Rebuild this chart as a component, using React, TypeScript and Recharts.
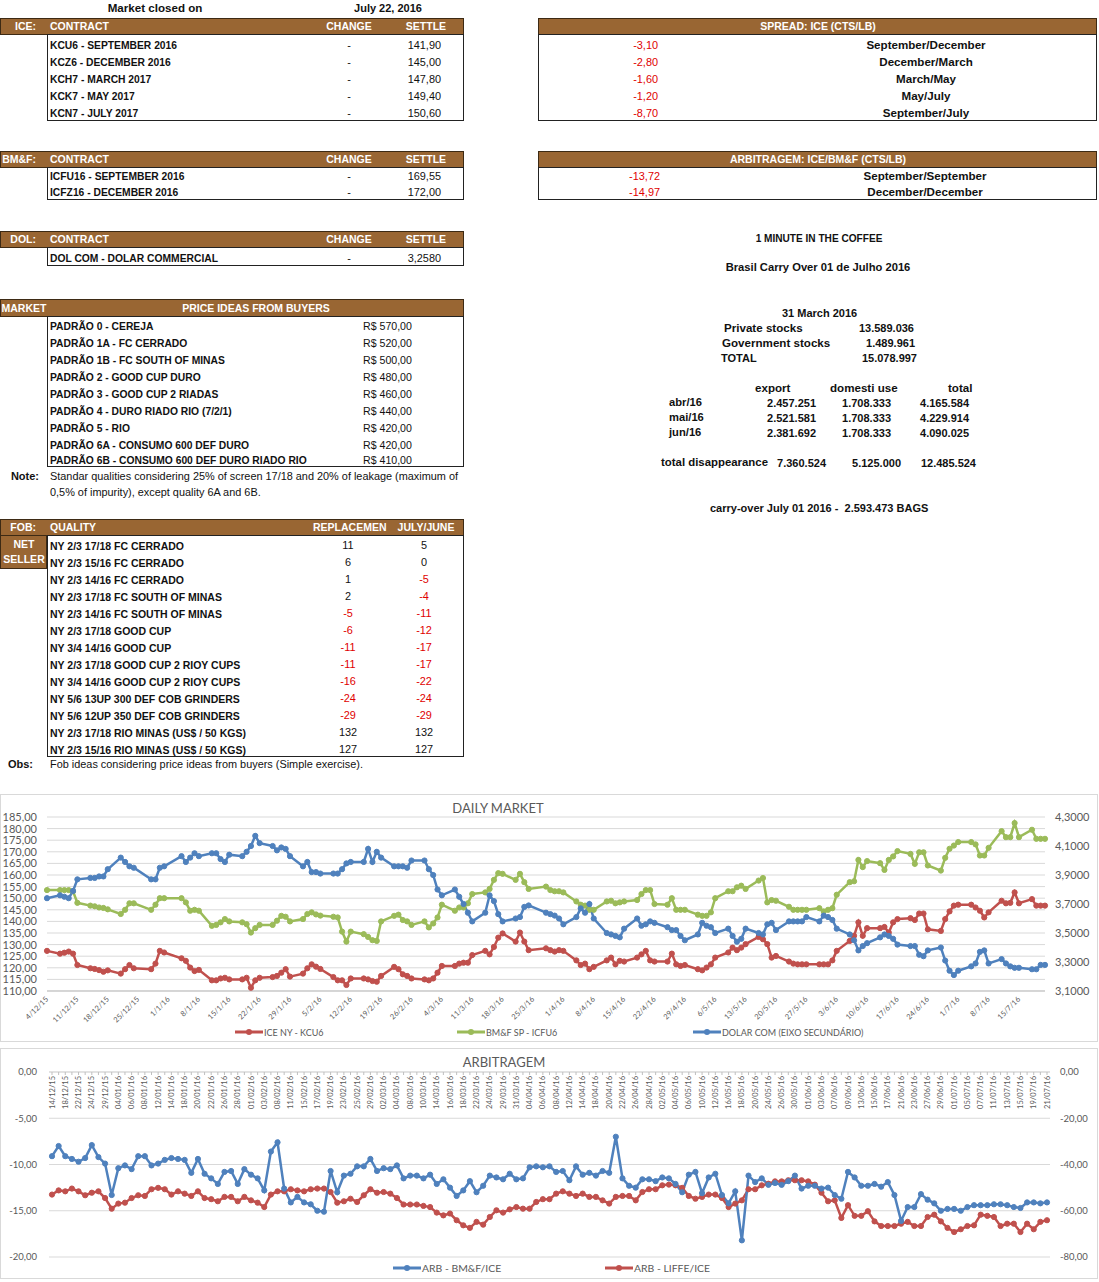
import React from 'react';
import { LineChart, Line, XAxis, YAxis, CartesianGrid } from 'recharts';

const SHEET_FONT = '"Liberation Sans", Arial, sans-serif';
const CHART_FONT = 'Lato, "Open Sans", sans-serif';
const BROWN = '#996633';
const RED = '#C0504D';
const GREEN = '#9BBB59';
const BLUE = '#4F81BD';
const AXIS_TEXT = '#595959';
const CAPS = 10.3;   // bold upper-case cells render narrower in the sheet
const MIXED = 11.6;  // bold mixed-case cells render wider

// ---- tables ----
const iceContracts = ['KCU6 - SEPTEMBER 2016', 'KCZ6 - DECEMBER 2016', 'KCH7 - MARCH 2017', 'KCK7 - MAY 2017', 'KCN7 - JULY 2017'];
const iceSettle = ['141,90', '145,00', '147,80', '149,40', '150,60'];
const spreadValues = ['-3,10', '-2,80', '-1,60', '-1,20', '-8,70'];
const spreadLabels = ['September/December', 'December/March', 'March/May', 'May/July', 'September/July'];
const bmfContracts = ['ICFU16 - SEPTEMBER 2016', 'ICFZ16 - DECEMBER 2016'];
const bmfSettle = ['169,55', '172,00'];
const arbTableValues = ['-13,72', '-14,97'];
const arbTableLabels = ['September/September', 'December/December'];
const priceIdeas = [
  'PADRÃO 0 - CEREJA',
  'PADRÃO 1A - FC CERRADO',
  'PADRÃO 1B - FC SOUTH OF MINAS',
  'PADRÃO 2 - GOOD CUP DURO',
  'PADRÃO 3 - GOOD CUP 2 RIADAS',
  'PADRÃO 4 - DURO RIADO RIO (7/2/1)',
  'PADRÃO 5 - RIO',
  'PADRÃO 6A - CONSUMO 600 DEF DURO',
  'PADRÃO 6B - CONSUMO 600 DEF DURO RIADO RIO',
];
const priceValues = ['R$ 570,00', 'R$ 520,00', 'R$ 500,00', 'R$ 480,00', 'R$ 460,00', 'R$ 440,00', 'R$ 420,00', 'R$ 420,00', 'R$ 410,00'];
const fobQualities = [
  'NY 2/3 17/18 FC CERRADO',
  'NY 2/3 15/16 FC CERRADO',
  'NY 2/3 14/16 FC CERRADO',
  'NY 2/3 17/18 FC SOUTH OF MINAS',
  'NY 2/3 14/16 FC SOUTH OF MINAS',
  'NY 2/3 17/18 GOOD CUP',
  'NY 3/4 14/16 GOOD CUP',
  'NY 2/3 17/18 GOOD CUP 2 RIOY CUPS',
  'NY 3/4 14/16 GOOD CUP 2 RIOY CUPS',
  'NY 5/6 13UP 300 DEF COB GRINDERS',
  'NY 5/6 12UP 350 DEF COB GRINDERS',
  'NY 2/3 17/18 RIO MINAS (US$ / 50 KGS)',
  'NY 2/3 15/16 RIO MINAS (US$ / 50 KGS)',
];
const fobReplacement = [11, 6, 1, 2, -5, -6, -11, -11, -16, -24, -29, 132, 127];
const fobJulyJune = [5, 0, -5, -4, -11, -12, -17, -17, -22, -24, -29, 132, 127];

const stockLabels = ['Private stocks', 'Government stocks', 'TOTAL'];
const stockValues = ['13.589.036', '1.489.961', '15.078.997'];
const useMonths = ['abr/16', 'mai/16', 'jun/16'];
const useExport = ['2.457.251', '2.521.581', '2.381.692'];
const useDomestic = ['1.708.333', '1.708.333', '1.708.333'];
const useTotal = ['4.165.584', '4.229.914', '4.090.025'];
const disappearance = ['7.360.524', '5.125.000', '12.485.524'];

// ---- daily market ----
const dmDates = [
  '4/12/15',
  '7/12/15', '8/12/15', '9/12/15', '10/12/15', '11/12/15',
  '14/12/15', '15/12/15', '16/12/15', '17/12/15', '18/12/15',
  '21/12/15', '22/12/15', '23/12/15', '24/12/15',
  '28/12/15', '29/12/15', '30/12/15', '31/12/15',
  '4/1/16', '5/1/16', '6/1/16', '7/1/16', '8/1/16',
  '11/1/16', '12/1/16', '13/1/16', '14/1/16', '15/1/16',
  '18/1/16', '19/1/16', '20/1/16', '21/1/16', '22/1/16',
  '25/1/16', '26/1/16', '27/1/16', '28/1/16', '29/1/16',
  '1/2/16', '2/2/16', '3/2/16', '4/2/16', '5/2/16',
  '8/2/16', '9/2/16', '10/2/16', '11/2/16', '12/2/16',
  '15/2/16', '16/2/16', '17/2/16', '18/2/16', '19/2/16',
  '22/2/16', '23/2/16', '24/2/16', '25/2/16', '26/2/16',
  '29/2/16', '1/3/16', '2/3/16', '3/3/16', '4/3/16',
  '7/3/16', '8/3/16', '9/3/16', '10/3/16', '11/3/16',
  '14/3/16', '15/3/16', '16/3/16', '17/3/16', '18/3/16',
  '21/3/16', '22/3/16', '23/3/16', '24/3/16',
  '28/3/16', '29/3/16', '30/3/16', '31/3/16', '1/4/16',
  '4/4/16', '5/4/16', '6/4/16', '7/4/16', '8/4/16',
  '11/4/16', '12/4/16', '13/4/16', '14/4/16', '15/4/16',
  '18/4/16', '19/4/16', '20/4/16', '21/4/16', '22/4/16',
  '25/4/16', '26/4/16', '27/4/16', '28/4/16', '29/4/16',
  '2/5/16', '3/5/16', '4/5/16', '5/5/16', '6/5/16',
  '9/5/16', '10/5/16', '11/5/16', '12/5/16', '13/5/16',
  '16/5/16', '17/5/16', '18/5/16', '19/5/16', '20/5/16',
  '23/5/16', '24/5/16', '25/5/16', '26/5/16', '27/5/16',
  '30/5/16', '31/5/16', '1/6/16', '2/6/16', '3/6/16',
  '6/6/16', '7/6/16', '8/6/16', '9/6/16', '10/6/16',
  '13/6/16', '14/6/16', '15/6/16', '16/6/16', '17/6/16',
  '20/6/16', '21/6/16', '22/6/16', '23/6/16', '24/6/16',
  '27/6/16', '28/6/16', '29/6/16', '30/6/16', '1/7/16',
  '4/7/16', '5/7/16', '6/7/16', '7/7/16', '8/7/16',
  '11/7/16', '12/7/16', '13/7/16', '14/7/16', '15/7/16',
  '18/7/16', '19/7/16', '20/7/16', '21/7/16',
];

const iceNy = [
  127.3,
  126.1, 126.5, 127.0, 126.1, 121.2,
  119.8, 119.5, 119.0, 118.3, 118.9,
  117.5, 119.4, 121.2, 119.8,
  119.4, 121.8, 127.3, 126.6,
  124.1, 123.0, 120.1, 118.6, 119.1,
  114.6, 114.6, 115.4, 115.7, 115.0,
  115.0, 115.7, 111.4, 114.6, 115.7,
  116.0, 116.5, 117.9, 119.4, 116.2,
  117.5, 119.8, 121.5, 120.5, 119.5,
  116.0, 114.6, 114.6, 112.6, 115.4,
  115.4, 115.0, 114.3, 114.0, 116.5,
  120.4, 119.4, 117.2, 116.5, 115.4,
  115.0, 114.6, 115.4, 117.9, 120.8,
  120.8, 121.8, 122.2, 122.2, 125.5,
  127.3, 125.8, 129.0, 133.0, 134.8,
  131.3, 135.2, 131.3, 127.6,
  128.4, 127.6, 127.0, 127.6, 127.3,
  123.2, 121.2, 121.8, 119.4, 120.4,
  123.2, 124.4, 121.5, 123.0, 122.7,
  124.4, 125.8, 127.3, 123.2, 122.7,
  122.7, 126.1, 121.5, 120.8, 121.2,
  119.4, 118.9, 120.1, 121.5, 124.4,
  126.6, 128.7, 127.6, 128.7, 130.2,
  133.3, 132.3, 130.2, 124.4, 125.1,
  122.7, 121.8, 121.5, 121.5, 121.5,
  121.5, 121.5, 121.5, 123.2, 127.3,
  131.6, 133.8, 139.6, 133.8, 137.1,
  137.1, 137.6, 135.2, 139.6, 141.0,
  141.4, 140.6, 143.4, 143.4, 136.6,
  135.9, 141.0, 144.3, 146.8, 147.2,
  147.2, 146.0, 144.6, 141.7, 143.9,
  148.9, 147.8, 148.0, 152.5, 147.8,
  149.6, 146.8, 146.8, 146.8,
];

const bmfSp = [
  153.5,
  153.5, 153.5, 153.5, 153.0, 148.0,
  146.8, 146.5, 146.0, 145.8, 145.2,
  143.2, 145.0, 147.8, 147.8,
  145.0, 147.2, 150.0, 150.0,
  150.0, 148.2, 144.6, 145.0, 144.6,
  138.1, 138.5, 139.6, 141.0, 140.0,
  139.6, 138.8, 135.2, 137.1, 138.5,
  138.5, 140.3, 142.4, 142.0, 140.0,
  141.0, 143.2, 143.9, 143.0, 142.5,
  142.0, 141.7, 135.6, 131.3, 135.6,
  134.5, 133.3, 131.9, 131.6, 140.0,
  142.4, 142.9, 140.6, 140.0, 138.5,
  140.0, 137.4, 139.1, 141.7, 147.2,
  144.6, 146.0, 146.0, 147.8, 151.8,
  152.5, 154.0, 157.9, 160.8, 160.5,
  157.9, 160.5, 156.9, 154.0,
  155.0, 153.5, 153.0, 153.0, 152.5,
  148.6, 147.2, 146.8, 145.0, 145.0,
  148.6, 148.9, 147.8, 148.2, 148.6,
  149.2, 151.8, 153.5, 153.5, 147.5,
  147.2, 150.0, 145.0, 145.0, 145.0,
  142.9, 142.4, 142.4, 143.9, 150.0,
  153.0, 153.0, 154.7, 155.4, 154.0,
  157.6, 158.7, 148.2, 149.2, 148.9,
  146.3, 145.0, 145.0, 145.0, 145.0,
  145.7, 144.3, 145.0, 145.7, 151.5,
  156.9, 157.3, 166.5, 163.4, 166.0,
  165.1, 162.2, 166.5, 168.0, 170.3,
  169.1, 164.8, 169.8, 169.8, 164.1,
  161.9, 167.4, 171.3, 172.7, 174.2,
  174.2, 173.2, 168.4, 168.4, 171.7,
  178.9, 176.3, 176.3, 182.4, 176.3,
  179.5, 175.6, 175.6, 175.6,
];

const dolarCom = [
  3.74,
  3.76, 3.75, 3.74, 3.79, 3.87,
  3.88, 3.88, 3.89, 3.89, 3.94,
  4.02, 3.99, 3.96, 3.95,
  3.87, 3.87, 3.95, 3.96,
  4.03, 3.99, 4.02, 4.05, 4.03,
  4.05, 4.05, 4.01, 3.99, 4.04,
  4.03, 4.06, 4.10, 4.17, 4.12,
  4.10, 4.07, 4.09, 4.08, 4.03,
  3.96, 3.99, 3.92, 3.92, 3.91,
  3.91, 3.91, 3.94, 3.98, 3.99,
  3.99, 4.08, 3.99, 4.06, 4.02,
  3.96, 3.96, 3.96, 3.95, 4.00,
  4.00, 3.94, 3.90, 3.80, 3.76,
  3.80, 3.75, 3.70, 3.64, 3.58,
  3.64, 3.76, 3.72, 3.63, 3.58,
  3.60, 3.61, 3.68, 3.69,
  3.64, 3.63, 3.62, 3.60, 3.56,
  3.61, 3.67, 3.64, 3.70, 3.60,
  3.50, 3.49, 3.48, 3.47, 3.53,
  3.60, 3.55, 3.56, 3.58, 3.57,
  3.54, 3.52, 3.52, 3.48, 3.45,
  3.49, 3.57, 3.55, 3.54, 3.50,
  3.53, 3.48, 3.44, 3.46, 3.53,
  3.50, 3.49, 3.56, 3.57, 3.52,
  3.58, 3.58, 3.58, 3.58, 3.61,
  3.58, 3.62, 3.61, 3.59, 3.53,
  3.49, 3.45, 3.38, 3.41, 3.43,
  3.47, 3.49, 3.48, 3.46, 3.42,
  3.41, 3.41, 3.35, 3.34, 3.38,
  3.40, 3.31, 3.24, 3.21, 3.24,
  3.27, 3.29, 3.37, 3.38, 3.29,
  3.32, 3.29, 3.27, 3.26, 3.26,
  3.25, 3.25, 3.28, 3.28,
];

const dmTickLabels = [
  '4/12/15', '11/12/15', '18/12/15', '25/12/15', '1/1/16', '8/1/16', '15/1/16', '22/1/16', '29/1/16',
  '5/2/16', '12/2/16', '19/2/16', '26/2/16', '4/3/16', '11/3/16', '18/3/16', '25/3/16', '1/4/16',
  '8/4/16', '15/4/16', '22/4/16', '29/4/16', '6/5/16', '13/5/16', '20/5/16', '27/5/16', '3/6/16',
  '10/6/16', '17/6/16', '24/6/16', '1/7/16', '8/7/16', '15/7/16',
];
const dmLeftTicks = [110, 115, 120, 125, 130, 135, 140, 145, 150, 155, 160, 165, 170, 175, 180, 185];
const dmRightTicks = [3.1, 3.3, 3.5, 3.7, 3.9, 4.1, 4.3];

// ---- arbitragem ----
const arbDates = [
  '14/12/15', '16/12/15', '18/12/15', '21/12/15', '22/12/15', '23/12/15', '24/12/15', '28/12/15', '29/12/15', '30/12/15',
  '04/01/16', '05/01/16', '06/01/16', '07/01/16', '08/01/16', '11/01/16', '12/01/16', '13/01/16', '14/01/16', '15/01/16',
  '18/01/16', '19/01/16', '20/01/16', '21/01/16', '22/01/16', '25/01/16', '26/01/16', '27/01/16', '28/01/16', '29/01/16',
  '01/02/16', '02/02/16', '03/02/16', '05/02/16', '08/02/16', '10/02/16', '11/02/16', '12/02/16', '15/02/16', '16/02/16',
  '17/02/16', '18/02/16', '19/02/16', '22/02/16', '23/02/16', '24/02/16', '25/02/16', '26/02/16', '29/02/16', '01/03/16',
  '02/03/16', '03/03/16', '04/03/16', '07/03/16', '08/03/16', '09/03/16', '10/03/16', '11/03/16', '14/03/16', '15/03/16',
  '16/03/16', '17/03/16', '18/03/16', '21/03/16', '22/03/16', '23/03/16', '24/03/16', '28/03/16', '29/03/16', '30/03/16',
  '31/03/16', '01/04/16', '04/04/16', '05/04/16', '06/04/16', '07/04/16', '08/04/16', '11/04/16', '12/04/16', '13/04/16',
  '14/04/16', '15/04/16', '18/04/16', '19/04/16', '20/04/16', '21/04/16', '22/04/16', '25/04/16', '26/04/16', '27/04/16',
  '28/04/16', '29/04/16', '02/05/16', '03/05/16', '04/05/16', '05/05/16', '06/05/16', '09/05/16', '10/05/16', '11/05/16',
  '12/05/16', '13/05/16', '16/05/16', '17/05/16', '18/05/16', '19/05/16', '20/05/16', '23/05/16', '24/05/16', '25/05/16',
  '26/05/16', '27/05/16', '30/05/16', '31/05/16', '01/06/16', '02/06/16', '03/06/16', '06/06/16', '07/06/16', '08/06/16',
  '09/06/16', '10/06/16', '13/06/16', '14/06/16', '15/06/16', '16/06/16', '17/06/16', '20/06/16', '21/06/16', '22/06/16',
  '23/06/16', '24/06/16', '27/06/16', '28/06/16', '29/06/16', '30/06/16', '01/07/16', '04/07/16', '05/07/16', '06/07/16',
  '07/07/16', '08/07/16', '11/07/16', '12/07/16', '13/07/16', '14/07/16', '15/07/16', '18/07/16', '19/07/16', '20/07/16',
  '21/07/16',
];

const arbBmfIce = [
  -9.1, -8.0, -9.1, -9.4, -9.7, -9.3, -7.9, -9.2, -9.9, -13.3,
  -10.4, -10.1, -10.5, -9.1, -9.1, -10.1, -9.9, -9.5, -9.3, -9.4,
  -9.5, -10.9, -9.4, -11.0, -11.5, -12.1, -10.8, -10.7, -12.1, -10.5,
  -11.1, -11.5, -12.8, -8.6, -7.6, -12.6, -14.1, -13.5, -14.1, -14.3,
  -15.0, -15.1, -10.7, -13.0, -11.2, -11.0, -10.2, -10.2, -9.4, -10.7,
  -10.4, -10.5, -10.1, -11.5, -11.2, -11.2, -11.5, -11.1, -12.1, -11.6,
  -12.5, -13.4, -12.8, -11.8, -13.0, -12.3, -11.2, -11.4, -11.6, -11.0,
  -11.6, -11.5, -10.3, -10.2, -10.3, -10.2, -10.8, -10.7, -11.7, -10.2,
  -11.1, -10.9, -11.2, -10.7, -10.9, -7.0, -11.5, -12.3, -12.5, -11.6,
  -11.6, -11.8, -11.4, -11.5, -12.1, -13.0, -11.1, -10.8, -13.1, -11.4,
  -11.0, -13.3, -14.2, -12.9, -18.2, -11.2, -11.9, -11.5, -12.2, -12.0,
  -12.2, -11.8, -11.2, -12.6, -12.3, -12.3, -12.6, -12.5, -13.3, -13.7,
  -10.8, -11.4, -12.3, -12.3, -12.1, -12.4, -11.9, -13.3, -16.1, -14.6,
  -14.6, -13.2, -13.8, -14.2, -15.0, -14.8, -14.8, -15.0, -14.6, -14.4,
  -14.4, -14.4, -14.3, -14.3, -14.4, -14.6, -14.7, -14.1, -14.1, -14.2,
  -14.1,
];

const arbLiffeIce = [
  -53.0, -51.2, -51.6, -50.4, -51.6, -53.3, -52.2, -51.6, -54.5, -59.1,
  -56.9, -56.5, -54.5, -53.3, -53.6, -50.7, -50.1, -50.7, -53.0, -51.6,
  -52.6, -53.6, -51.6, -54.5, -55.0, -55.9, -54.0, -54.0, -55.9, -54.0,
  -55.5, -56.5, -58.4, -53.0, -51.6, -51.6, -50.7, -51.2, -51.6, -50.7,
  -50.4, -50.4, -51.9, -56.5, -55.9, -54.8, -56.2, -53.3, -50.7, -52.2,
  -51.9, -52.6, -54.5, -57.3, -57.3, -57.3, -57.9, -58.4, -60.8, -62.0,
  -61.2, -64.1, -66.3, -67.4, -64.8, -66.0, -62.7, -59.8, -60.8, -59.4,
  -58.4, -59.1, -59.1, -56.2, -55.0, -55.0, -52.6, -51.6, -52.6, -53.6,
  -52.6, -54.0, -54.0, -55.5, -56.9, -54.0, -53.6, -53.6, -55.5, -51.9,
  -50.7, -50.7, -49.0, -48.7, -49.0, -50.1, -53.6, -54.8, -54.0, -53.0,
  -53.0, -54.5, -58.4, -56.9, -55.5, -50.7, -50.7, -49.0, -48.3, -47.3,
  -47.3, -46.8, -46.8, -46.8, -47.3, -48.7, -52.2, -55.9, -55.5, -63.1,
  -57.6, -62.2, -62.2, -60.2, -64.6, -66.6, -66.6, -66.6, -65.6, -64.8,
  -66.6, -66.6, -62.7, -61.7, -64.6, -67.4, -69.2, -68.0, -66.6, -66.3,
  -61.7, -62.2, -62.7, -66.6, -65.6, -65.6, -69.2, -65.6, -68.0, -64.8,
  -64.1,
];

const arbLeftTicks = [0, -5, -10, -15, -20];
const arbRightTicks = [0, -20, -40, -60, -80];

// ---- helpers ----
const dayIndex = (s: string) => {
  const [d, m, y] = s.split('/').map(Number);
  return Math.round((Date.UTC(2000 + y, m - 1, d) - Date.UTC(2015, 11, 4)) / 86400000);
};

const dailyData = dmDates.map((d, i) => ({
  day: dayIndex(d),
  ice: iceNy[i],
  bmf: bmfSp[i],
  dolar: dolarCom[i],
}));
const dmTicks = dmTickLabels.map(dayIndex);
const dmTickText: Record<number, string> = {};
dmTickLabels.forEach((l) => { dmTickText[dayIndex(l)] = l; });

const arbData = arbDates.map((d, i) => ({ date: d, bmf: arbBmfIce[i], liffe: arbLiffeIce[i] }));

const comma = (digits: number) => (v: number) => v.toFixed(digits).replace('.', ',');

function Txt({ x, y, a = 'l', b = true, c = '#111', s, f = SHEET_FONT, children }: any) {
  const tx = a === 'c' ? '-50%' : a === 'r' ? '-100%' : '0';
  const size = s ?? (b ? CAPS : 10.9);
  // the smaller bold body cells sit a touch lower in the sheet
  const top = b && size < 10.8 && f === SHEET_FONT && c !== '#fff' ? y + 1 : y;
  return (
    <div style={{
      position: 'absolute', left: x, top, transform: `translate(${tx}, -50%)`,
      fontFamily: f, fontSize: size, fontWeight: b ? 700 : 400, color: c, whiteSpace: 'pre', lineHeight: 1,
    }}>{children}</div>
  );
}

function Box({ x, y, w, h, bg = '#fff', bd = '1px solid #222' }: any) {
  return <div style={{ position: 'absolute', left: x, top: y, width: w, height: h, background: bg, border: bd, boxSizing: 'border-box' }} />;
}

function Header({ x, y, w, h = 18 }: any) {
  return <Box x={x} y={y} w={w} h={h} bg={BROWN} bd="1px solid #3d2a14" />;
}

function DailyTick(props: any) {
  const { x, y, payload } = props;
  return (
    <text x={x} y={y} transform={`rotate(-45 ${x} ${y})`} textAnchor="end" dominantBaseline="central"
      fontSize={7.5} fill={AXIS_TEXT} fontFamily={CHART_FONT}>{dmTickText[payload.value]}</text>
  );
}

function ArbTick(props: any) {
  const { x, y, payload, index } = props;
  const ty = y + 4;
  return (
    <g>
      <line x1={x} x2={x} y1={y} y2={y + 3} stroke="#bfbfbf" />
      {index % 2 === 0 && (
        <text x={x} y={ty} transform={`rotate(-90 ${x} ${ty})`} textAnchor="end" dominantBaseline="central"
          fontSize={7.5} fill={AXIS_TEXT} fontFamily={CHART_FONT}>{payload.value}</text>
      )}
    </g>
  );
}

function LegendItem({ x, y, color, label, size = 9 }: any) {
  return (
    <div style={{ position: 'absolute', left: x, top: y - 8, height: 16, display: 'flex', alignItems: 'center',
      fontFamily: CHART_FONT, fontSize: size, color: AXIS_TEXT, whiteSpace: 'nowrap' }}>
      <svg width={28} height={10}>
        <line x1={0} y1={5} x2={28} y2={5} stroke={color} strokeWidth={3} />
        <circle cx={14} cy={5} r={3} fill={color} />
      </svg>
      <span style={{ marginLeft: 1 }}>{label}</span>
    </div>
  );
}

const dotOf = (c: string) => ({ r: 2.6, fill: c, stroke: c, strokeWidth: 1 });

export default function App() {
  const iceRows = [45, 62, 79, 96, 113];
  const bmfRows = [176, 192];
  const marketRows = [326, 343, 360, 377, 394, 411, 428, 445, 460];
  const fobRows = [545, 562, 579, 596, 613, 630, 647, 664, 681, 698, 715, 732, 749];
  const useRows = [403, 418, 433];
  const stockRows = [328, 343, 358];
  const H = 10.5;

  return (
    <div style={{ position: 'absolute', left: 0, top: 0, width: 1099, height: 1282, background: '#fff', overflow: 'hidden' }}>
      <Txt x={155} y={8} a="c" s={MIXED}>Market closed on</Txt>
      <Txt x={388} y={8} a="c" s={11}>July 22, 2016</Txt>

      {/* ICE */}
      <Header x={0} y={18} w={464} h={17} />
      <Box x={47} y={34} w={417} h={87} />
      <Txt x={36} y={26} a="r" c="#fff" s={H}>ICE:</Txt>
      <Txt x={50} y={26} c="#fff" s={H}>CONTRACT</Txt>
      <Txt x={349} y={26} a="c" c="#fff" s={H}>CHANGE</Txt>
      <Txt x={426} y={26} a="c" c="#fff" s={H}>SETTLE</Txt>
      {iceContracts.map((t, i) => (
        <React.Fragment key={t}>
          <Txt x={50} y={iceRows[i]}>{t}</Txt>
          <Txt x={349} y={iceRows[i]} a="c" b={false}>-</Txt>
          <Txt x={441} y={iceRows[i]} a="r" b={false}>{iceSettle[i]}</Txt>
        </React.Fragment>
      ))}

      {/* SPREAD */}
      <Header x={538} y={18} w={559} h={17} />
      <Box x={538} y={34} w={559} h={87} />
      <Txt x={818} y={26} a="c" c="#fff" s={H}>SPREAD: ICE (CTS/LB)</Txt>
      {spreadValues.map((v, i) => (
        <React.Fragment key={v + i}>
          <Txt x={658} y={iceRows[i]} a="r" b={false} c="#e00000">{v}</Txt>
          <Txt x={926} y={iceRows[i]} a="c" s={MIXED}>{spreadLabels[i]}</Txt>
        </React.Fragment>
      ))}

      {/* BM&F */}
      <Header x={0} y={151} w={464} h={17} />
      <Box x={47} y={167} w={417} h={33} />
      <Txt x={36} y={159} a="r" c="#fff" s={H}>BM&amp;F:</Txt>
      <Txt x={50} y={159} c="#fff" s={H}>CONTRACT</Txt>
      <Txt x={349} y={159} a="c" c="#fff" s={H}>CHANGE</Txt>
      <Txt x={426} y={159} a="c" c="#fff" s={H}>SETTLE</Txt>
      {bmfContracts.map((t, i) => (
        <React.Fragment key={t}>
          <Txt x={50} y={bmfRows[i]}>{t}</Txt>
          <Txt x={349} y={bmfRows[i]} a="c" b={false}>-</Txt>
          <Txt x={441} y={bmfRows[i]} a="r" b={false}>{bmfSettle[i]}</Txt>
        </React.Fragment>
      ))}

      {/* ARBITRAGEM table */}
      <Header x={538} y={151} w={559} h={17} />
      <Box x={538} y={167} w={559} h={33} />
      <Txt x={818} y={159} a="c" c="#fff" s={H}>ARBITRAGEM: ICE/BM&amp;F (CTS/LB)</Txt>
      {arbTableValues.map((v, i) => (
        <React.Fragment key={v}>
          <Txt x={660} y={bmfRows[i]} a="r" b={false} c="#e00000">{v}</Txt>
          <Txt x={925} y={bmfRows[i]} a="c" s={MIXED}>{arbTableLabels[i]}</Txt>
        </React.Fragment>
      ))}

      {/* DOL */}
      <Header x={0} y={231} w={464} h={17} />
      <Box x={47} y={247} w={417} h={19} />
      <Txt x={36} y={239} a="r" c="#fff" s={H}>DOL:</Txt>
      <Txt x={50} y={239} c="#fff" s={H}>CONTRACT</Txt>
      <Txt x={349} y={239} a="c" c="#fff" s={H}>CHANGE</Txt>
      <Txt x={426} y={239} a="c" c="#fff" s={H}>SETTLE</Txt>
      <Txt x={50} y={258}>DOL COM - DOLAR COMMERCIAL</Txt>
      <Txt x={349} y={258} a="c" b={false}>-</Txt>
      <Txt x={441} y={258} a="r" b={false}>3,2580</Txt>

      {/* MARKET */}
      <Header x={0} y={299} w={464} h={18} />
      <Box x={47} y={316} w={417} h={151} />
      <Txt x={24} y={308} a="c" c="#fff" s={H}>MARKET</Txt>
      <Txt x={256} y={308} a="c" c="#fff" s={H}>PRICE IDEAS FROM BUYERS</Txt>
      {priceIdeas.map((t, i) => (
        <React.Fragment key={t}>
          <Txt x={50} y={marketRows[i]}>{t}</Txt>
          <Txt x={363} y={marketRows[i]} b={false} s={10.6}>{priceValues[i]}</Txt>
        </React.Fragment>
      ))}
      <Txt x={39} y={476} a="r" s={11}>Note:</Txt>
      <Txt x={50} y={476} b={false}>Standar qualities considering 25% of screen 17/18 and 20% of leakage (maximum of</Txt>
      <Txt x={50} y={492} b={false}>0,5% of impurity), except quality 6A and 6B.</Txt>

      {/* FOB */}
      <Header x={0} y={519} w={464} h={17} />
      <Box x={47} y={535} w={417} h={222} />
      <Box x={0} y={535} w={47} h={34} bg={BROWN} bd="1px solid #3d2a14" />
      <Txt x={36} y={527} a="r" c="#fff" s={H}>FOB:</Txt>
      <Txt x={50} y={527} c="#fff" s={H}>QUALITY</Txt>
      <Txt x={313} y={527} c="#fff" s={H}>REPLACEMEN</Txt>
      <Txt x={426} y={527} a="c" c="#fff" s={H}>JULY/JUNE</Txt>
      <Txt x={24} y={544} a="c" c="#fff" s={H}>NET</Txt>
      <Txt x={24} y={559} a="c" c="#fff" s={H}>SELLER</Txt>
      {fobQualities.map((t, i) => (
        <React.Fragment key={t}>
          <Txt x={50} y={fobRows[i]} s={10.5}>{t}</Txt>
          <Txt x={348} y={fobRows[i]} a="c" b={false} c={fobReplacement[i] < 0 ? '#e00000' : '#111'}>{fobReplacement[i]}</Txt>
          <Txt x={424} y={fobRows[i]} a="c" b={false} c={fobJulyJune[i] < 0 ? '#e00000' : '#111'}>{fobJulyJune[i]}</Txt>
        </React.Fragment>
      ))}
      <Txt x={33} y={764} a="r" s={11}>Obs:</Txt>
      <Txt x={50} y={764} b={false}>Fob ideas considering price ideas from buyers (Simple exercise).</Txt>

      {/* 1 minute in the coffee */}
      <Txt x={819} y={238} a="c" s={10.1}>1 MINUTE IN THE COFFEE</Txt>
      <Txt x={818} y={268} a="c" s={11.2}>Brasil Carry Over 01 de Julho 2016</Txt>
      <Txt x={782} y={313} s={11}>31 March 2016</Txt>
      {stockLabels.map((l, i) => (
        <React.Fragment key={l}>
          <Txt x={[724, 722, 721][i]} y={stockRows[i]} s={i < 2 ? MIXED : 11}>{l}</Txt>
          <Txt x={[914, 915, 917][i]} y={stockRows[i]} a="r" s={11}>{stockValues[i]}</Txt>
        </React.Fragment>
      ))}
      <Txt x={755} y={388} s={MIXED}>export</Txt>
      <Txt x={830} y={388} s={MIXED}>domesti use</Txt>
      <Txt x={948} y={388} s={MIXED}>total</Txt>
      {useMonths.map((m, i) => (
        <React.Fragment key={m}>
          <Txt x={669} y={useRows[i]} s={11.2}>{m}</Txt>
          <Txt x={816} y={useRows[i]} a="r" s={11}>{useExport[i]}</Txt>
          <Txt x={891} y={useRows[i]} a="r" s={11}>{useDomestic[i]}</Txt>
          <Txt x={969} y={useRows[i]} a="r" s={11}>{useTotal[i]}</Txt>
        </React.Fragment>
      ))}
      <Txt x={661} y={463} s={11.4}>total disappearance</Txt>
      <Txt x={826} y={463} a="r" s={11}>{disappearance[0]}</Txt>
      <Txt x={901} y={463} a="r" s={11}>{disappearance[1]}</Txt>
      <Txt x={976} y={463} a="r" s={11}>{disappearance[2]}</Txt>
      <Txt x={710} y={508} s={11}>carry-over July 01 2016 -  2.593.473 BAGS</Txt>

      {/* DAILY MARKET chart */}
      <Box x={0} y={794} w={1098} h={248} bd="1px solid #d9d9d9" />
      <div style={{ position: 'absolute', left: 0, top: 795 }}>
        <LineChart width={1098} height={246} data={dailyData} margin={{ top: 22, right: 0, bottom: 0, left: 0 }}>
          <CartesianGrid vertical={false} stroke="#d9d9d9" yAxisId="left" />
          <XAxis dataKey="day" type="number" domain={[0, 230]} ticks={dmTicks} interval={0} height={50}
            tick={<DailyTick />} tickSize={0} tickMargin={7} tickLine={false} axisLine={{ stroke: '#bfbfbf' }} />
          <YAxis yAxisId="left" domain={[110, 185]} ticks={dmLeftTicks} interval={0} width={47}
            tickFormatter={comma(2)} tickSize={0} tickMargin={10} tickLine={false} axisLine={false}
            tick={{ fill: AXIS_TEXT, fontSize: 11, fontFamily: CHART_FONT }} />
          <YAxis yAxisId="right" orientation="right" domain={[3.1, 4.3]} ticks={dmRightTicks} interval={0} width={53}
            tickFormatter={comma(4)} tickSize={0} tickMargin={10} tickLine={false} axisLine={false}
            tick={{ fill: AXIS_TEXT, fontSize: 11, fontFamily: CHART_FONT }} />
          <Line yAxisId="left" dataKey="ice" stroke={RED} strokeWidth={2.5} dot={dotOf(RED)} isAnimationActive={false} />
          <Line yAxisId="left" dataKey="bmf" stroke={GREEN} strokeWidth={2.5} dot={dotOf(GREEN)} isAnimationActive={false} />
          <Line yAxisId="right" dataKey="dolar" stroke={BLUE} strokeWidth={2.5} dot={dotOf(BLUE)} isAnimationActive={false} />
        </LineChart>
      </div>
      <Txt x={498} y={808} a="c" b={false} c={AXIS_TEXT} s={13} f={CHART_FONT}>DAILY MARKET</Txt>
      <LegendItem x={235} y={1032} color={RED} label="ICE NY - KCU6" />
      <LegendItem x={457} y={1032} color={GREEN} label="BM&F SP - ICFU6" />
      <LegendItem x={693} y={1032} color={BLUE} label="DOLAR COM (EIXO SECUNDÁRIO)" />

      {/* ARBITRAGEM chart */}
      <Box x={0} y={1048} w={1098} h={231} bd="1px solid #d9d9d9" />
      <div style={{ position: 'absolute', left: 0, top: 1048 }}>
        <LineChart width={1098} height={230} data={arbData} margin={{ top: 23, right: 0, bottom: 21, left: 0 }}>
          <CartesianGrid vertical={false} stroke="#d9d9d9" yAxisId="left" />
          <XAxis dataKey="date" orientation="top" height={1} interval={0} tick={<ArbTick />}
            tickSize={0} tickMargin={0} tickLine={false} axisLine={{ stroke: '#d9d9d9' }} padding={{ left: 3, right: 3 }} />
          <YAxis yAxisId="left" domain={[-20, 0]} ticks={arbLeftTicks} interval={0} width={49}
            tickFormatter={comma(2)} tickSize={0} tickMargin={12} tickLine={false} axisLine={false}
            tick={{ fill: AXIS_TEXT, fontSize: 9.5, fontFamily: CHART_FONT }} />
          <YAxis yAxisId="right" orientation="right" domain={[-80, 0]} ticks={arbRightTicks} interval={0} width={48}
            tickFormatter={comma(2)} tickSize={0} tickMargin={10} tickLine={false} axisLine={false}
            tick={{ fill: AXIS_TEXT, fontSize: 9.5, fontFamily: CHART_FONT }} />
          <Line yAxisId="right" dataKey="liffe" stroke={RED} strokeWidth={2.5} dot={dotOf(RED)} isAnimationActive={false} />
          <Line yAxisId="left" dataKey="bmf" stroke={BLUE} strokeWidth={2.5} dot={dotOf(BLUE)} isAnimationActive={false} />
        </LineChart>
      </div>
      <Txt x={504} y={1062} a="c" b={false} c={AXIS_TEXT} s={13} f={CHART_FONT}>ARBITRAGEM</Txt>
      <LegendItem x={393} y={1268} color={BLUE} label="ARB - BM&F/ICE" size={10.4} />
      <LegendItem x={605} y={1268} color={RED} label="ARB - LIFFE/ICE" size={10.4} />
    </div>
  );
}
